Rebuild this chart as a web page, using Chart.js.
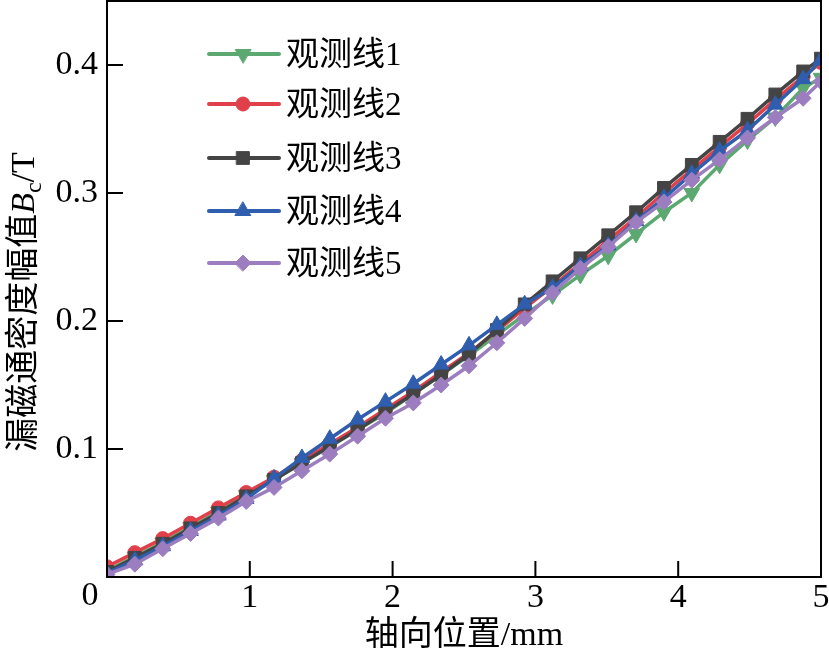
<!DOCTYPE html>
<html><head><meta charset="utf-8">
<script src="https://cdn.jsdelivr.net/npm/chart.js@4/dist/chart.umd.min.js"></script>
<style>html,body{margin:0;padding:0;background:#fff}canvas{display:block}</style>
</head><body>
<canvas id="c" width="829" height="656"></canvas>
<script>
// ---- data ----
const xPositions = [0, 0.195, 0.39, 0.585, 0.78, 0.975, 1.17, 1.365, 1.56, 1.755, 1.95, 2.145, 2.34, 2.535, 2.73, 2.925, 3.12, 3.315, 3.51, 3.705, 3.9, 4.095, 4.29, 4.485, 4.68, 4.875, 5.0];
const line1 = [0.005, 0.016, 0.027, 0.039, 0.051, 0.064, 0.076, 0.089, 0.102, 0.115, 0.128, 0.143, 0.158, 0.173, 0.189, 0.205, 0.220, 0.236, 0.251, 0.268, 0.285, 0.300, 0.322, 0.341, 0.359, 0.382, 0.390];
const line2 = [0.008, 0.019, 0.030, 0.042, 0.054, 0.066, 0.078, 0.091, 0.104, 0.117, 0.131, 0.145, 0.160, 0.175, 0.192, 0.210, 0.227, 0.245, 0.263, 0.281, 0.300, 0.318, 0.336, 0.354, 0.373, 0.391, 0.402];
const line3 = [0.004, 0.015, 0.026, 0.038, 0.050, 0.063, 0.076, 0.089, 0.102, 0.115, 0.129, 0.143, 0.158, 0.174, 0.193, 0.213, 0.231, 0.249, 0.267, 0.285, 0.304, 0.322, 0.340, 0.358, 0.377, 0.395, 0.405];
const line4 = [0.003, 0.013, 0.024, 0.036, 0.048, 0.061, 0.077, 0.093, 0.108, 0.123, 0.137, 0.151, 0.166, 0.181, 0.197, 0.213, 0.226, 0.243, 0.259, 0.278, 0.296, 0.315, 0.333, 0.349, 0.369, 0.389, 0.404];
const line5 = [0.002, 0.010, 0.022, 0.034, 0.046, 0.059, 0.070, 0.083, 0.096, 0.110, 0.124, 0.136, 0.150, 0.165, 0.183, 0.202, 0.222, 0.241, 0.258, 0.277, 0.293, 0.310, 0.326, 0.343, 0.359, 0.374, 0.387];
const seriesNames = ['观测线1', '观测线2', '观测线3', '观测线4', '观测线5'];
const xTicks = [0, 1, 2, 3, 4, 5];
const yTicks = [0.1, 0.2, 0.3, 0.4];
const xTitle = '轴向位置/mm';
const yTitleMain = '漏磁通密度幅值';
const yTitleSym = 'B';
const yTitleSub = 'c';
const yTitleUnit = '/T';

// ---- styles ----
const seriesData = [line1, line2, line3, line4, line5];
const seriesColors = ['#5CA871', '#E0404A', '#444444', '#2F5EAE', '#9C7EC0'];
const seriesMarkers = ['triangle', 'circle', 'rect', 'triangle', 'rectRot'];
const markerRotation = [180, 0, 0, 0, 0];
const markerRadius = [9, 7, 9, 9, 8];
const SERIF = "'Liberation Serif','Times New Roman','Noto Sans CJK SC',serif";

const datasets = seriesData.map((d, i) => ({
  label: seriesNames[i],
  data: xPositions.map((x, j) => ({ x: x, y: d[j] })),
  borderColor: seriesColors[i],
  backgroundColor: seriesColors[i],
  pointBackgroundColor: seriesColors[i],
  pointBorderColor: seriesColors[i],
  borderWidth: 3.5,
  pointStyle: seriesMarkers[i],
  pointRotation: markerRotation[i],
  pointRadius: markerRadius[i],
  pointBorderWidth: 1,
  tension: 0,
  clip: 0,
  order: 4 - i
}));

const decor = {
  id: 'decor',
  afterDraw(chart) {
    const ctx = chart.ctx, ca = chart.chartArea;
    const xs = chart.scales.x, ys = chart.scales.y;
    ctx.save();
    // frame
    ctx.strokeStyle = '#000'; ctx.lineWidth = 2;
    ctx.strokeRect(ca.left, ca.top, ca.right - ca.left, ca.bottom - ca.top);
    // inward ticks
    ctx.beginPath();
    xTicks.forEach(v => {
      if (v <= xs.min || v >= xs.max) return;
      const px = xs.getPixelForValue(v);
      ctx.moveTo(px, ca.bottom); ctx.lineTo(px, ca.bottom - 16);
    });
    yTicks.forEach(v => {
      const py = ys.getPixelForValue(v);
      ctx.moveTo(ca.left, py); ctx.lineTo(ca.left + 16, py);
    });
    ctx.stroke();
    // origin label
    ctx.fillStyle = '#000';
    ctx.font = '34px ' + SERIF;
    ctx.textAlign = 'center'; ctx.textBaseline = 'top';
    ctx.fillText(String(xTicks[0]), ca.left - 17, ca.bottom + 2);

    // y title (rotated, with italic symbol and subscript)
    ctx.translate(22, 302);
    ctx.rotate(-Math.PI / 2);
    ctx.textAlign = 'left'; ctx.textBaseline = 'alphabetic';
    const parts = [
      { t: yTitleMain, f: '34px ' + SERIF, dy: 12 },
      { t: yTitleSym, f: "italic 34px 'Liberation Serif'", dy: 12 },
      { t: yTitleSub, f: "24px 'Liberation Serif'", dy: 19 },
      { t: yTitleUnit, f: "34px 'Liberation Serif'", dy: 12 }
    ];
    let total = 0;
    parts.forEach(p => { ctx.font = p.f; p.w = ctx.measureText(p.t).width; total += p.w; });
    let cx = -total / 2;
    parts.forEach(p => { ctx.font = p.f; ctx.fillText(p.t, cx, p.dy); cx += p.w; });
    ctx.restore();

    // legend
    const rows = [54, 104, 158, 211, 263];
    ctx.save();
    chart.data.datasets.forEach((ds, i) => {
      const y = rows[i];
      ctx.strokeStyle = ds.borderColor; ctx.lineWidth = 4; ctx.lineCap = 'round';
      ctx.beginPath(); ctx.moveTo(209, y); ctx.lineTo(279, y); ctx.stroke();
      ctx.fillStyle = ds.pointBackgroundColor; ctx.strokeStyle = ds.pointBorderColor; ctx.lineWidth = 1;
      Chart.helpers.drawPoint(ctx, { pointStyle: ds.pointStyle, rotation: ds.pointRotation, radius: ds.pointRadius, borderWidth: 1 }, 243, y);
      ctx.fillStyle = '#000';
      ctx.font = '33px ' + SERIF;
      ctx.textAlign = 'left'; ctx.textBaseline = 'middle';
      ctx.fillText(ds.label, 286, y + 2);
    });
    ctx.restore();
  }
};

new Chart(document.getElementById('c'), {
  type: 'line',
  data: { datasets: datasets },
  options: {
    responsive: false, animation: false, devicePixelRatio: 1,
    layout: { autoPadding: false, padding: { left: 0, right: 8, top: 1, bottom: 0 } },
    plugins: { legend: { display: false }, tooltip: { enabled: false } },
    scales: {
      x: {
        type: 'linear', min: 0, max: 5,
        afterBuildTicks: s => { s.ticks = xTicks.map(v => ({ value: v })); },
        afterFit: s => { s.height = 79; s.paddingLeft = 0; s.paddingRight = 0; },
        grid: { display: false, drawTicks: false },
        border: { display: false },
        ticks: { font: { family: SERIF, size: 34 }, color: '#000', padding: 1, maxRotation: 0, autoSkip: false,
                 callback: v => (v === xTicks[0] ? '' : String(v)) },
        title: { display: true, text: xTitle, font: { family: SERIF, size: 34 }, color: '#000', padding: 0 }
      },
      y: {
        type: 'linear', min: 0, max: 0.45,
        afterBuildTicks: s => { s.ticks = yTicks.map(v => ({ value: v })); },
        afterFit: s => { s.width = 107; s.paddingTop = 0; s.paddingBottom = 0; },
        grid: { display: false, drawTicks: false },
        border: { display: false },
        ticks: { font: { family: SERIF, size: 34 }, color: '#000', padding: 9, callback: v => Number(v).toFixed(1) }
      }
    }
  },
  plugins: [decor]
});
</script>
</body></html>
